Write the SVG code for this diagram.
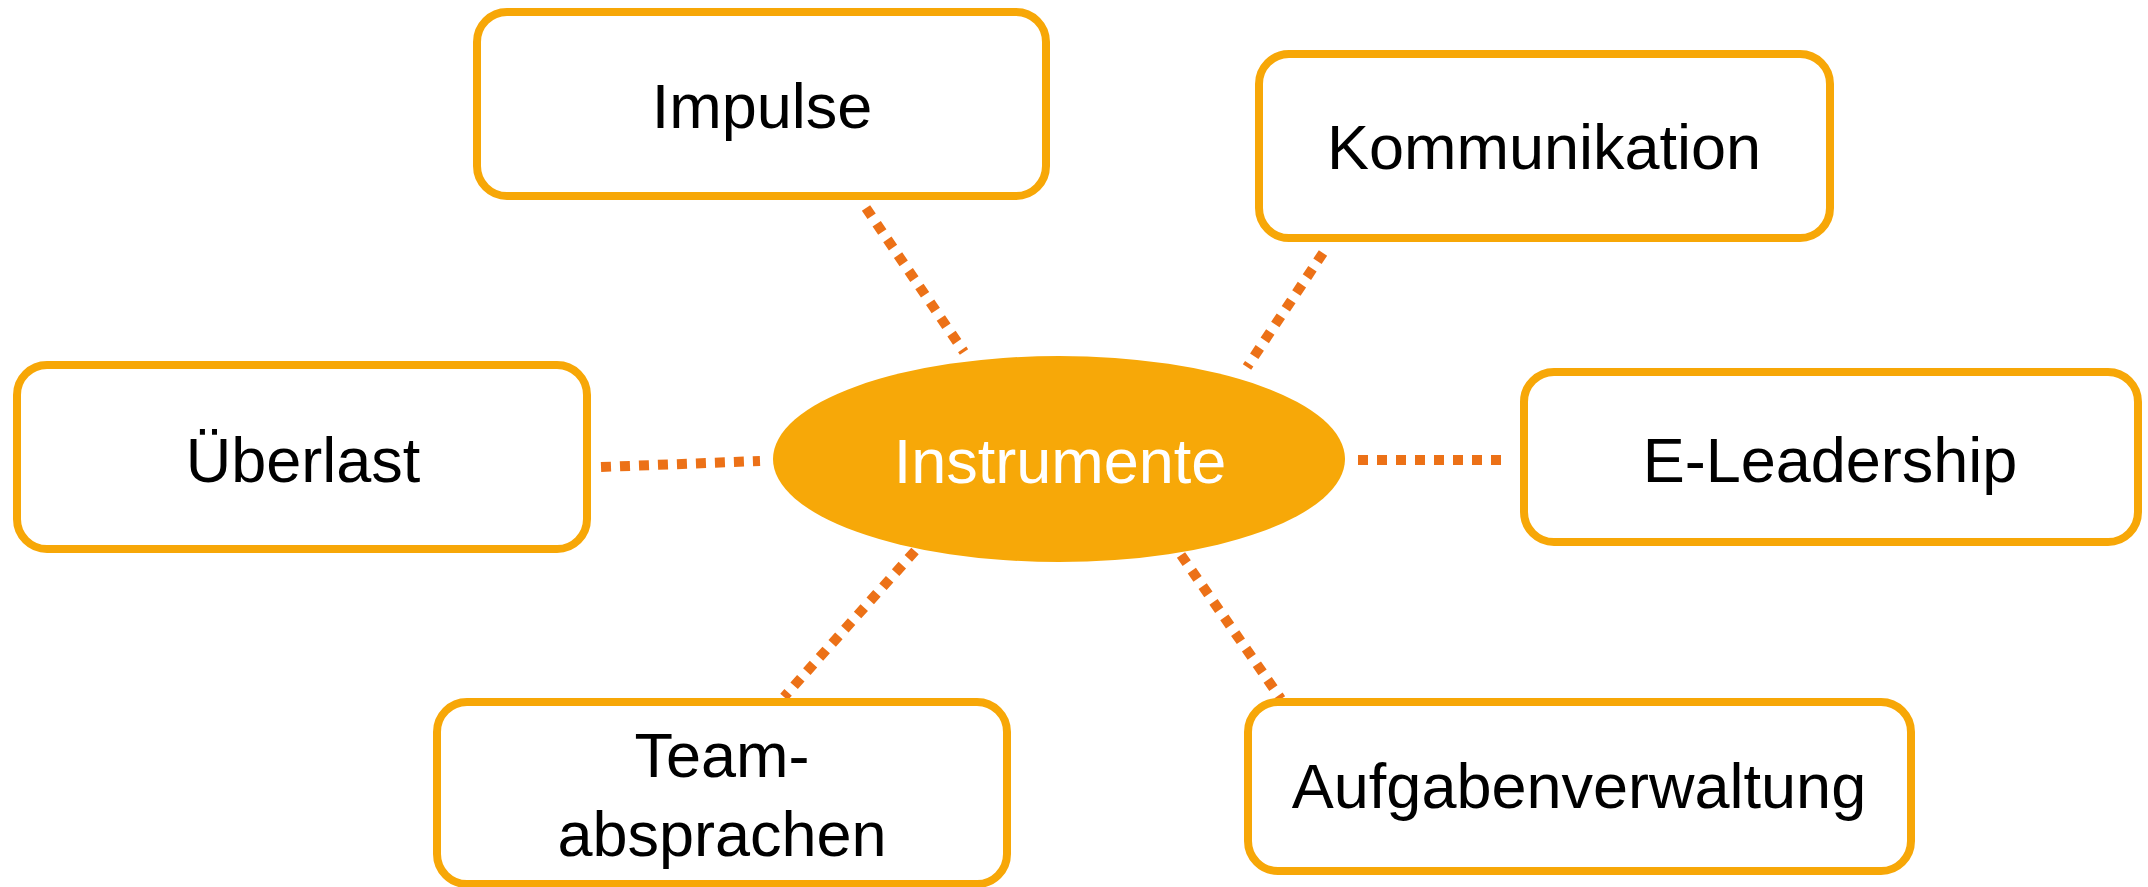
<svg xmlns="http://www.w3.org/2000/svg" width="2148" height="887" viewBox="0 0 2148 887">
<style>
.box{fill:#fff;stroke:#F7A707;stroke-width:8}
.lbl{font-family:"Liberation Sans",Arial,sans-serif;font-size:63px;fill:#000;text-anchor:middle}
.conn{stroke:#EC7117;stroke-width:10;stroke-dasharray:10 9;fill:none}
</style>
<rect width="2148" height="887" fill="#fff"/>
<g id="connectors">
<line class="conn" x1="866" y1="208" x2="964" y2="352"/>
<line class="conn" x1="1323" y1="253" x2="1247" y2="367"/>
<line class="conn" x1="601" y1="467" x2="760" y2="461"/>
<line class="conn" x1="1358" y1="460" x2="1510" y2="460"/>
<line class="conn" x1="915" y1="551" x2="784" y2="697"/>
<line class="conn" x1="1181" y1="555" x2="1281" y2="699"/>
</g>
<g id="center">
<ellipse cx="1059" cy="459" rx="286" ry="103" fill="#F7A808"/>
<text class="lbl" x="1060" y="483" style="fill:#fff">Instrumente</text>
</g>
<g id="impulse">
<rect class="box" x="477" y="12" width="569" height="184" rx="30"/>
<text class="lbl" x="762" y="128">Impulse</text>
</g>
<g id="kommunikation">
<rect class="box" x="1259" y="54" width="571" height="184" rx="30"/>
<text class="lbl" x="1544" y="169">Kommunikation</text>
</g>
<g id="ueberlast">
<rect class="box" x="17" y="365" width="570" height="184" rx="30"/>
<text class="lbl" x="303" y="482">Überlast</text>
</g>
<g id="eleadership">
<rect class="box" x="1524" y="372" width="614" height="170" rx="30"/>
<text class="lbl" x="1830" y="482">E-Leadership</text>
</g>
<g id="teamabsprachen">
<rect class="box" x="437" y="702" width="570" height="182" rx="30"/>
<text class="lbl" x="722" y="777">Team-</text>
<text class="lbl" x="722" y="856">absprachen</text>
</g>
<g id="aufgabenverwaltung">
<rect class="box" x="1248" y="702" width="663" height="169" rx="30"/>
<text class="lbl" x="1579" y="808">Aufgabenverwaltung</text>
</g>
</svg>
